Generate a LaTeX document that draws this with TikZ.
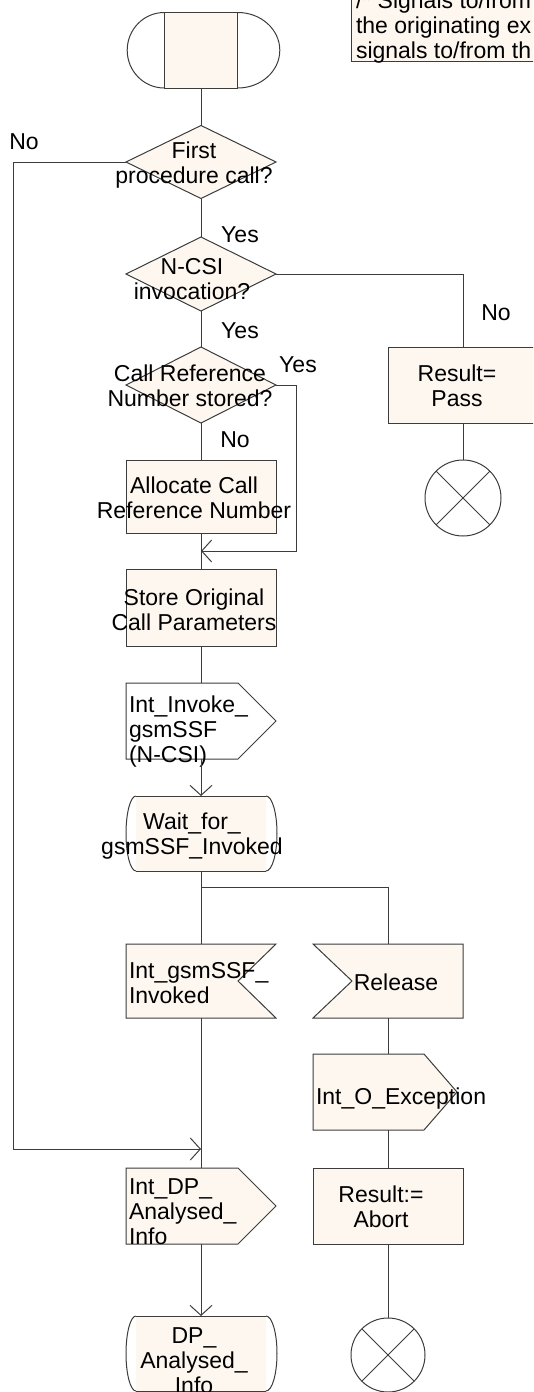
\documentclass[tikz,border=0pt]{standalone}
\usepackage{fontspec}
\setmainfont{Liberation Sans}
\usetikzlibrary{arrows.meta,shapes.geometric}
\definecolor{sdlfill}{RGB}{254,247,240}
\definecolor{sdlline}{RGB}{60,60,60}
\newcommand\myfnt{\fontsize{23}{25}\selectfont}
\begin{document}
\begin{tikzpicture}[x=1pt,y=-1pt,
  ln/.style={draw=sdlline, line width=1pt},
  arr/.style={draw=sdlline, line width=1pt, -{Straight Barb[length=10pt,width=22pt]}},
  ghost/.style={rectangle, draw=none, inner sep=0pt, outer sep=0pt},
  shp/.style={draw=sdlline, line width=1pt, fill=sdlfill, line join=miter},
  dec/.style={diamond, shp, inner sep=0pt, outer sep=0pt, minimum width=150pt},
  txt/.style={inner sep=0pt, outer sep=0pt, align=center, font=\myfnt},
  ltxt/.style={txt, align=left},
  endc/.style={circle, draw=sdlline, line width=1pt, inner sep=0pt, outer sep=0pt, minimum size=#1}]
\useasboundingbox (0,0) rectangle (533,1392);
\clip (0,0) rectangle (533,1392);

% comment
\node[ghost, minimum width=200pt, minimum height=72pt, anchor=north west] (cmt) at (351,-11) {};
\draw[shp] (cmt.north west) rectangle (cmt.south east);
\node[ltxt, anchor=west] (cmttxt) at (356,28) {\strut/* Signals to/from\\\strut the originating ex\\\strut signals to/from th};

% start
\node[ghost, minimum width=73.6pt, minimum height=75.5pt] (start) at (201,50.25) {};
\draw[shp] (start.north west) rectangle (start.south east);
\draw[ln] (start.south west) arc[start angle=270, end angle=90, x radius=37pt, y radius=37.75pt];
\draw[ln] (start.south east) arc[start angle=-90, end angle=90, x radius=42pt, y radius=37.75pt];

% decisions
\node[dec, minimum height=73pt] (d1) at (201,162) {};
\node[txt] (t1) at (194,166) {\strut First\\\strut procedure call?};
\node[dec, minimum height=74pt] (d2) at (201,274) {};
\node[txt] (t2) at (192,282) {\strut N-CSI\\\strut invocation?};
\node[dec, minimum height=76pt] (d3) at (201,385) {};
\node[txt] (t3) at (190,388.5) {\strut Call Reference\\\strut Number stored?};

% tasks
\node[ghost, minimum width=150pt, minimum height=76pt] (pass) at (463,385) {};
\draw[shp] (pass.north west) rectangle (pass.south east);
\node[txt] (tpass) at (457,389) {\strut Result=\\\strut Pass};
\node[endc=76pt] (end1) at (463,498) {};
\draw[ln] (end1.north west) -- (end1.south east) (end1.north east) -- (end1.south west);

\node[ghost, minimum width=150pt, minimum height=73pt] (alloc) at (201,496.5) {};
\draw[shp] (alloc.north west) rectangle (alloc.south east);
\node[txt] (talloc) at (194,500.5) {\strut Allocate Call\\\strut Reference Number};

\node[ghost, minimum width=150pt, minimum height=77pt] (store) at (201,607.5) {};
\draw[shp] (store.north west) rectangle (store.south east);
\node[txt] (tstore) at (194,613) {\strut Store Original\\\strut Call Parameters};

% output Int_Invoke_gsmSSF
\node[ghost, minimum width=150pt, minimum height=76pt] (inv) at (201,721) {};
\draw[ln, line join=miter] (inv.north west) -- ([xshift=-38pt]inv.north east) -- (inv.east) -- ([xshift=-38pt]inv.south east) -- (inv.south west) -- cycle;
\node[ltxt, anchor=west] (tinv) at (129,732.5) {\strut Int\_Invoke\_\\\strut gsmSSF\\\strut (N-CSI)};

% state Wait_for_gsmSSF_Invoked
\node[ghost, minimum width=130pt, minimum height=75pt] (wait) at (201,833.5) {};
\fill[sdlfill] (wait.north west) rectangle (wait.south east);
\draw[ln] (wait.north west) -- (wait.north east) (wait.south west) -- (wait.south east);
\draw[ln] (wait.south west) arc[start angle=270, end angle=90, x radius=10pt, y radius=37.5pt];
\draw[ln] (wait.south east) arc[start angle=-90, end angle=90, x radius=11pt, y radius=37.5pt];
\node[txt] (twait) at (192,836.5) {\strut Wait\_for\_\\\strut gsmSSF\_Invoked};

% inputs
\node[ghost, minimum width=150pt, minimum height=74pt] (gsm) at (201,981) {};
\draw[shp] (gsm.north west) -- (gsm.north east) -- ([xshift=-38pt]gsm.east) -- (gsm.south east) -- (gsm.south west) -- cycle;
\node[ltxt, anchor=west] (tgsm) at (129,986) {\strut Int\_gsmSSF\_\\\strut Invoked};

\node[ghost, minimum width=150pt, minimum height=74pt] (rel) at (388,981) {};
\draw[shp] (rel.north west) -- (rel.north east) -- (rel.south east) -- (rel.south west) -- ([xshift=39pt]rel.west) -- cycle;
\node[txt] (trel) at (396,985) {\strut Release};

% output Int_O_Exception
\node[ghost, minimum width=150pt, minimum height=76pt] (exc) at (388,1092) {};
\draw[shp] (exc.north west) -- ([xshift=-39pt]exc.north east) -- ([xshift=-6pt]exc.east) -- ([xshift=-39pt]exc.south east) -- (exc.south west) -- cycle;
\node[ltxt, anchor=west] (texc) at (316,1099) {\strut Int\_O\_Exception};

\node[ghost, minimum width=150pt, minimum height=76pt] (abort) at (388,1206) {};
\draw[shp] (abort.north west) rectangle (abort.south east);
\node[txt] (tabort) at (381,1210) {\strut Result:=\\\strut Abort};
\node[endc=74pt] (end2) at (388,1355) {};
\draw[ln] (end2.north west) -- (end2.south east) (end2.north east) -- (end2.south west);

% output Int_DP_Analysed_Info
\node[ghost, minimum width=150pt, minimum height=76pt] (idp) at (201,1206) {};
\draw[shp] (idp.north west) -- ([xshift=-38pt]idp.north east) -- (idp.east) -- ([xshift=-38pt]idp.south east) -- (idp.south west) -- cycle;
\node[ltxt, anchor=west] (tidp) at (129,1214.5) {\strut Int\_DP\_\\\strut Analysed\_\\\strut Info};

% state DP_Analysed_Info
\node[ghost, minimum width=130pt, minimum height=75pt] (dps) at (201,1353.5) {};
\fill[sdlfill] (dps.north west) rectangle (dps.south east);
\draw[ln] (dps.north west) -- (dps.north east) (dps.south west) -- (dps.south east);
\draw[ln] (dps.south west) arc[start angle=270, end angle=90, x radius=10pt, y radius=37.5pt];
\draw[ln] (dps.south east) arc[start angle=-90, end angle=90, x radius=11pt, y radius=37.5pt];
\node[txt] (tdps) at (194,1363) {\strut DP\_\\\strut Analysed\_\\\strut Info};

% labels
\node[txt] (lno1) at (24,142) {No};
\node[txt] (lyes1) at (240,235) {Yes};
\node[txt] (lyes2) at (240,331) {Yes};
\node[txt] (lno2) at (496,313) {No};
\node[txt] (lyes3) at (298,365) {Yes};
\node[txt] (lno3) at (235,440) {No};

% connectors
\coordinate (lft) at (13,162);
\coordinate (j2) at (201,1149);
\coordinate (j1) at (201,551);
\coordinate (yr) at (296,551);
\coordinate (br) at (201,887);
\draw[ln] (start.south) -- (d1.north);
\draw[ln] (d1.south) -- (d2.north);
\draw[ln] (d2.south) -- (d3.north);
\draw[ln] (d3.south) -- (alloc.north);
\draw[ln] (alloc.south) -- (store.north);
\draw[ln] (store.south) -- (inv.north);
\draw[arr] (inv.south) -- (wait.north);
\draw[ln] (wait.south) -- (gsm.north);
\draw[ln] (br) -| (rel.north);
\draw[ln] (rel.south) -- (exc.north);
\draw[ln] (exc.south) -- (abort.north);
\draw[ln] (abort.south) -- (end2.north);
\draw[ln] (gsm.south) -- (idp.north);
\draw[arr] (idp.south) -- (dps.north);
\draw[ln] (d2.east) -| (pass.north);
\draw[ln] (pass.south) -- (end1.north);
\draw[arr] (d3.east) -| (yr) -- (j1);
\draw[arr] (d1.west) -- (lft) |- (j2);
\end{tikzpicture}
\end{document}
